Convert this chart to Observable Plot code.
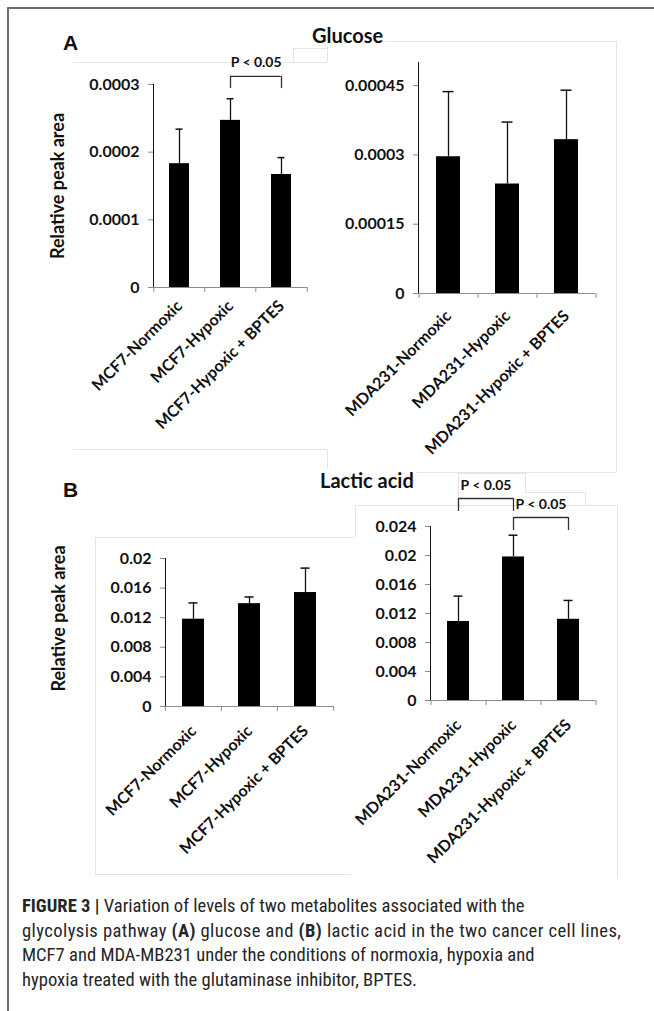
<!DOCTYPE html>
<html><head><meta charset="utf-8">
<script src="https://cdn.jsdelivr.net/npm/d3@7"></script>
<script src="https://cdn.jsdelivr.net/npm/@observablehq/plot@0.6"></script>
<style>
body{margin:0;background:#fff;}
#fig{position:relative;width:654px;height:1011px;overflow:hidden;background:#fff;}
.abs{position:absolute;}
.panel svg{overflow:visible;}
.panel g[aria-label="y-axis tick"], .panel g[aria-label="x-axis tick"]{stroke:#8c8c8c;}
.panel g[aria-label="y-axis line"] line, .panel g[aria-label="y-axis line"]{stroke:#8c8c8c;}
.hl{position:absolute;height:0;border-top:1px solid #e4e4e4;}
.vl{position:absolute;width:0;border-left:1px solid #e4e4e4;}
.ttl{position:absolute;font-family:Lato,"Open Sans",sans-serif;font-weight:700;font-size:20px;color:#111;background:#fff;padding:0 2px;line-height:22px;}
.let{position:absolute;font-family:"Liberation Sans",Arial,sans-serif;font-weight:700;font-size:21px;line-height:22px;color:#111;}
#cap{position:absolute;left:22px;top:894px;width:632px;font-family:"Liberation Sans Narrow","Roboto Condensed","Liberation Sans",Arial,sans-serif;font-size:18.6px;line-height:24.5px;color:#262626;}
#cap div{white-space:nowrap;}
#cap div.wide{letter-spacing:0.4px;}
</style></head><body><div id="fig"></div>
<script>
// ---- data ----
const catsMCF7 = ["MCF7-Normoxic", "MCF7-Hypoxic", "MCF7-Hypoxic + BPTES"];
const catsMDA = ["MDA231-Normoxic", "MDA231-Hypoxic", "MDA231-Hypoxic + BPTES"];
const glucoseMCF7 = [0.000183, 0.000247, 0.000167];
const glucoseMCF7Err = [0.000051, 0.000032, 0.000025];
const glucoseMDA = [0.000296, 0.000237, 0.000333];
const glucoseMDAErr = [0.000141, 0.000134, 0.000107];
const lacticMCF7 = [0.0118, 0.0139, 0.0154];
const lacticMCF7Err = [0.0022, 0.0009, 0.0033];
const lacticMDA = [0.0109, 0.0198, 0.0112];
const lacticMDAErr = [0.0035, 0.0030, 0.0026];
const ticksGlucoseMCF7 = [0, 0.0001, 0.0002, 0.0003];
const ticksGlucoseMDA = [0, 0.00015, 0.0003, 0.00045];
const ticksLacticMCF7 = [0, 0.004, 0.008, 0.012, 0.016, 0.02];
const ticksLacticMDA = [0, 0.004, 0.008, 0.012, 0.016, 0.02, 0.024];
const sigGlucoseMCF7 = [{from: "MCF7-Hypoxic", to: "MCF7-Hypoxic + BPTES", top: 0.000312, end: 0.000294, labelY: 0.000332, label: "P < 0.05"}];
const sigLacticMDA = [
  {from: "MDA231-Normoxic", to: "MDA231-Hypoxic", top: 0.02786, end: 0.02607, labelY: 0.02966, label: "P < 0.05"},
  {from: "MDA231-Hypoxic", to: "MDA231-Hypoxic + BPTES", top: 0.02524, end: 0.02345, labelY: 0.02703, label: "P < 0.05"}
];
const yLabel = "Relative peak area";
const titles = ["Glucose", "Lactic acid"];
const captionLines = [
  "<b>FIGURE 3 |</b> Variation of levels of two metabolites associated with the",
  "glycolysis pathway <b>(A)</b> glucose and <b>(B)</b> lactic acid in the two cancer cell lines,",
  "MCF7 and MDA-MB231 under the conditions of normoxia, hypoxia and",
  "hypoxia treated with the glutaminase inhibitor, BPTES."
];

const fig = document.getElementById("fig");
const FONT = 'Lato, "Open Sans", sans-serif';

function panel(o) {
  const data = o.cats.map((c, i) => ({c, v: o.vals[i], e: o.vals[i] + o.errs[i]}));
  const step = (o.width - o.ml - o.mr) / o.cats.length;
  const bw = step * 0.4;
  const marks = [
    Plot.barY(data, {x: "c", y: "v", fill: "#000"}),
    Plot.ruleX(data, {x: "c", y1: "v", y2: "e", stroke: "#111", strokeWidth: 1.3}),
    Plot.tickY(data, {x: "c", y: "e", stroke: "#111", strokeWidth: 1.5, insetLeft: 6.5, insetRight: 6.5}),
    Plot.ruleY([0], {stroke: "#8c8c8c"}),
    Plot.ruleX(o.cats, {x: d => d, y1: 0, y2: 0, dx: -step / 2, insetBottom: -5, stroke: "#8c8c8c"}),
    Plot.ruleX(o.cats.slice(-1), {x: d => d, y1: 0, y2: 0, dx: step / 2, insetBottom: -5, stroke: "#8c8c8c"})
  ];
  if (o.ylabel) {
    marks.push(Plot.text([o.ylabel], {text: d => d, frameAnchor: "left", textAnchor: "middle", rotate: -90, dx: o.labelDx, dy: o.labelDy || 0,
      fontSize: 18, fontWeight: 700, fill: "#111"}));
  }
  if (o.sig) {
    marks.push(
      Plot.ruleY(o.sig, {x1: "from", x2: "to", y: "top", insetLeft: bw / 2, insetRight: bw / 2, stroke: "#333", strokeWidth: 1.3}),
      Plot.ruleX(o.sig, {x: "from", y1: "end", y2: "top", stroke: "#333", strokeWidth: 1.3}),
      Plot.ruleX(o.sig, {x: "to", y1: "end", y2: "top", stroke: "#333", strokeWidth: 1.3}),
      Plot.text(o.sig, {x: "from", y: "labelY", text: "label", dx: step / 2, fontSize: 14, fontWeight: 700, fill: "#111"})
    );
  }
  const svg = Plot.plot({
    width: o.width, height: o.height,
    marginLeft: o.ml, marginRight: o.mr, marginTop: o.mt, marginBottom: o.mb,
    style: {background: "transparent", fontFamily: FONT, fontSize: "16px", fontWeight: 700, color: "#111", overflow: "visible"},
    x: {domain: o.cats, paddingInner: 0.6, paddingOuter: 0.3, tickRotate: -45, tickSize: 0, tickPadding: o.tp, label: null},
    y: {domain: o.domain, ticks: o.ticks, tickFormat: d => String(d), tickSize: 5, tickPadding: 9, line: true, label: null},
    marks
  });
  const div = document.createElement("div");
  div.className = "abs panel";
  div.style.left = o.left + "px";
  div.style.top = o.top + "px";
  div.appendChild(svg);
  fig.appendChild(div);
}

// faint chart-area outlines (layout only)
const hl = [[73,62,254],[327,41,289],[327,472,289],[73,449,254],[293,48,34],[95,537,260],[95,874,256],[355,505,261],[458,473,67],[525,492,60]];
const vl = [[327,41,21],[616,41,431],[327,449,23],[293,48,14],[95,537,337],[355,505,32],[617,505,373],[458,473,32],[525,473,19],[585,492,13]];
for (const [x, y, w] of hl) { const d = document.createElement("div"); d.className = "hl"; d.style.cssText = `left:${x}px;top:${y}px;width:${w}px`; fig.appendChild(d); }
for (const [x, y, h] of vl) { const d = document.createElement("div"); d.className = "vl"; d.style.cssText = `left:${x}px;top:${y}px;height:${h}px`; fig.appendChild(d); }

panel({cats: catsMCF7, vals: glucoseMCF7, errs: glucoseMCF7Err, ticks: ticksGlucoseMCF7, domain: [0, 0.0003], sig: sigGlucoseMCF7,
  left: 0, top: 0, width: 330, height: 440, ml: 153, mr: 23, mt: 84, mb: 153, tp: 16, ylabel: yLabel, labelDx: -95});
panel({cats: catsMDA, vals: glucoseMDA, errs: glucoseMDAErr, ticks: ticksGlucoseMDA, domain: [0, 0.0005],
  left: 330, top: 0, width: 324, height: 440, ml: 88, mr: 59, mt: 62, mb: 147, tp: 20});
panel({cats: catsMCF7, vals: lacticMCF7, errs: lacticMCF7Err, ticks: ticksLacticMCF7, domain: [0, 0.02],
  left: 0, top: 440, width: 340, height: 440, ml: 165, mr: 6, mt: 118, mb: 174, tp: 22, ylabel: yLabel, labelDx: -106, labelDy: -14});
panel({cats: catsMDA, vals: lacticMDA, errs: lacticMDAErr, ticks: ticksLacticMDA, domain: [0, 0.024], sig: sigLacticMDA,
  left: 330, top: 440, width: 324, height: 440, ml: 100, mr: 59, mt: 86, mb: 180, tp: 22});

// frame lines
const fl = document.createElement("div"); fl.className = "abs"; fl.style.cssText = "left:7px;top:7px;width:647px;height:0;border-top:2px solid #6e6e6e"; fig.appendChild(fl);
const fv = document.createElement("div"); fv.className = "abs"; fv.style.cssText = "left:7px;top:7px;width:0;height:1004px;border-left:2px solid #6e6e6e"; fig.appendChild(fv);

// titles and panel letters
function txt(cls, s, x, y) { const d = document.createElement("div"); d.className = cls; d.textContent = s; d.style.left = x + "px"; d.style.top = y + "px"; fig.appendChild(d); }
txt("ttl", titles[0], 310, 24);
txt("ttl", titles[1], 318, 469);
txt("let", "A", 63, 32);
txt("let", "B", 63, 479);

const cap = document.createElement("div"); cap.id = "cap";
cap.innerHTML = captionLines.map((l, i) => "<div" + (i === 1 ? ' class="wide"' : "") + ">" + l + "</div>").join("");
fig.appendChild(cap);
</script></body></html>
